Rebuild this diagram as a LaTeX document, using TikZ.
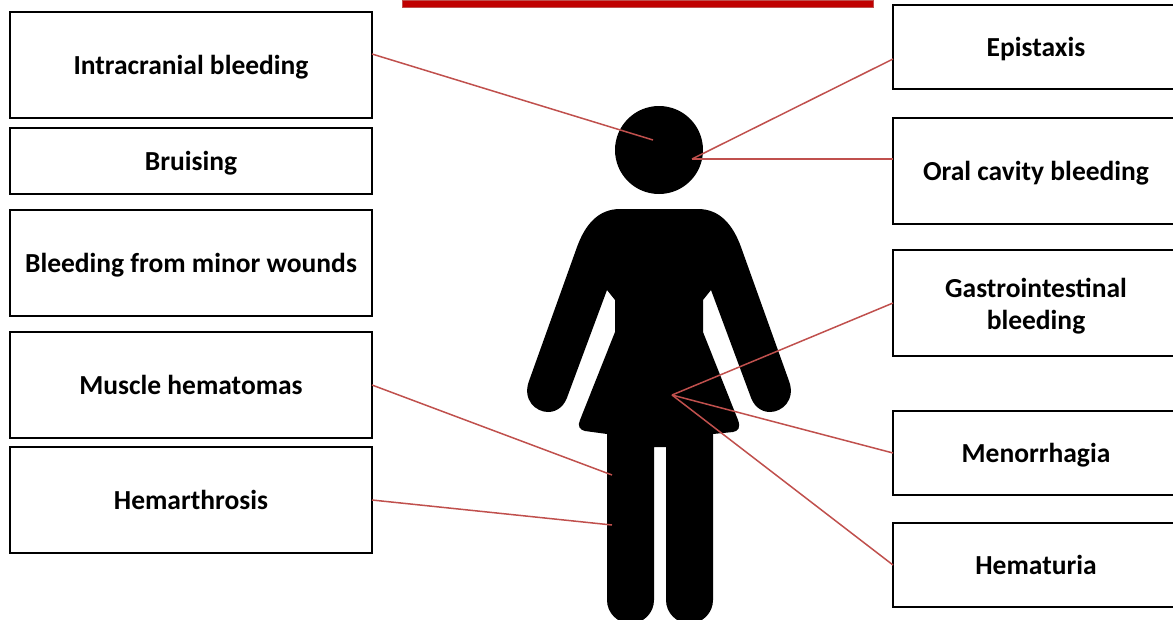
\documentclass[tikz,border=0pt]{standalone}
\usepackage{fontspec}
\setmainfont{Carlito}
\usepackage{xcolor}
\usetikzlibrary{positioning}
\definecolor{barred}{HTML}{C00000}
\definecolor{leadred}{HTML}{C0504D}

\begin{document}
\begin{tikzpicture}[
  x=1pt, y=-1pt,
  box/.style={draw, fill=white, line width=1.1pt, align=center, inner sep=0pt, outer sep=0pt,
    font=\fontsize{27.5}{32}\selectfont\bfseries, minimum width=362pt},
  oneline/.style={box, text height=22pt, text depth=4pt},
  tall/.style={oneline, minimum height=106pt},
  short/.style={oneline, minimum height=84pt, minimum width=286pt},
  wide/.style={oneline, minimum height=106pt, minimum width=286pt},
  lead/.style={draw=leadred, line width=1.5pt}]
  \useasboundingbox (0,0) rectangle (1173,619);
  % title bar
  \node[draw=leadred, fill=barred, line width=1pt, inner sep=0pt, outer sep=0pt, minimum width=471pt, minimum height=7pt] (bar) at (637.5,3.5) {};
  % figure
  \node[circle, fill=black, inner sep=0pt, minimum size=88pt] (head) at (659,150) {};
  \fill[black] (620,209) -- (698,209) .. controls (720,209) and (733,225) .. (741,247) -- (789,381)
    .. controls (796,400) and (782,412) .. (770,412) .. controls (760,412) and (753,405) .. (750,395)
    -- (711,290) -- (703,300) -- (703,332) -- (738,420) .. controls (741,428) and (738,431) .. (733,432)
    -- (713,434) -- (713,600) arc[start angle=0, end angle=180, radius=23.5]
    -- (666,447) -- (654,447) -- (654,600) arc[start angle=0, end angle=180, radius=23.5]
    -- (607,434) -- (585,431) .. controls (580,430) and (577,426) .. (580,420)
    -- (615,332) -- (615,300) -- (607,290) -- (568,395)
    .. controls (565,405) and (558,412) .. (548,412) .. controls (536,412) and (522,400) .. (529,381)
    -- (577,247) .. controls (585,225) and (598,209) .. (620,209) -- cycle;
  \coordinate (brain) at (653,140);
  \coordinate (mouth) at (692,159);
  \coordinate (pelvis) at (672,395);
  \coordinate (thigh) at (612,475);
  \coordinate (knee) at (612,525);
  % left column
  \node[tall] (intra) at (191,65) {Intracranial bleeding};
  \node[oneline, minimum height=66pt, below=10pt of intra] (bruise) {Bruising};
  \node[tall, below=16pt of bruise] (minor) {Bleeding from minor wounds};
  \node[tall, below=16pt of minor] (muscle) {Muscle hematomas};
  \node[tall, below=9pt of muscle] (hemar) {Hemarthrosis};
  % right column
  \node[short] (epi) at (1036,47) {Epistaxis};
  \node[wide, below=29pt of epi] (oral) {Oral cavity bleeding};
  \node[box, minimum height=106pt, minimum width=286pt, below=26pt of oral] (gastro) {\rule{0pt}{26pt}Gastrointestinal\\bleeding};
  \node[short, below=55pt of gastro] (menor) {Menorrhagia};
  \node[short, below=28pt of menor] (hemat) {Hematuria};
  % leads
  \draw[lead] ([yshift=11pt]intra.east) -- (brain);
  \draw[lead] ([yshift=-12pt]epi.west) -- (mouth);
  \draw[lead] ([yshift=12pt]oral.west) -- (mouth);
  \draw[lead] (gastro.west) -- (pelvis);
  \draw[lead] (menor.west) -- (pelvis);
  \draw[lead] (hemat.west) -- (pelvis);
  \draw[lead] (muscle.east) -- (thigh);
  \draw[lead] (hemar.east) -- (knee);
\end{tikzpicture}
\end{document}
